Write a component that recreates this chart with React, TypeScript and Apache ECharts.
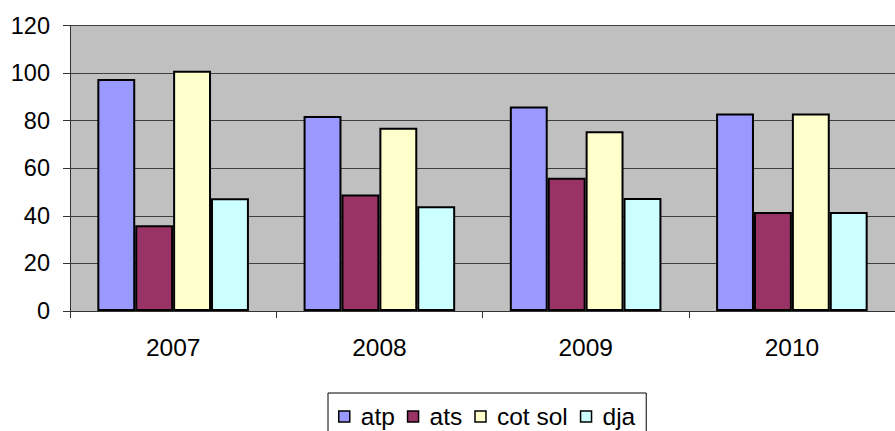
import React, { useEffect, useRef } from "react";
import * as echarts from "echarts";

const categories = ["2007", "2008", "2009", "2010"];
const seriesNames = ["atp", "ats", "cot sol", "dja"];
const atp = [97.5, 82, 86, 83];
const ats = [36, 49, 56, 41.6];
const cotSol = [101, 77, 75.5, 83];
const dja = [47.4, 44, 47.5, 41.6];
const yTicks = [0, 20, 40, 60, 80, 100, 120];
const colors = ["#9999FF", "#993366", "#FFFFCC", "#CCFFFF"];

const FONT = "Liberation Sans, Arial, sans-serif";

export default function App() {
  const ref = useRef<HTMLDivElement>(null);
  useEffect(() => {
    if (!ref.current) return;
    const chart = echarts.init(ref.current, undefined, { renderer: "svg" });
    const values = [atp, ats, cotSol, dja];
    chart.setOption({
      animation: false,
      backgroundColor: "#FFFFFF",
      textStyle: { fontFamily: FONT },
      grid: {
        left: 70,
        top: 25.5,
        bottom: 120,
        right: -11,
        show: true,
        backgroundColor: "#C0C0C0",
        borderWidth: 0,
      },
      legend: {
        data: seriesNames,
        left: 328,
        top: 393,
        padding: [11, 11, 12, 10],
        borderColor: "#000000",
        borderWidth: 1,
        backgroundColor: "#FFFFFF",
        itemWidth: 11,
        itemHeight: 11,
        itemGap: 12,
        icon: "rect",
        itemStyle: { borderColor: "#000000", borderWidth: 1.5 },
        textStyle: {
          fontSize: 24.5,
          color: "#000000",
          fontFamily: FONT,
          padding: [0, 0, 0, 6],
        },
      },
      xAxis: {
        type: "category",
        data: categories,
        axisLine: { show: true, lineStyle: { color: "#333333", width: 1 } },
        axisTick: { show: true, length: 7, lineStyle: { color: "#333333" } },
        axisLabel: {
          margin: 24,
          fontSize: 24.5,
          color: "#000000",
          fontFamily: FONT,
        },
        splitLine: { show: false },
      },
      yAxis: {
        type: "value",
        min: yTicks[0],
        max: yTicks[yTicks.length - 1],
        interval: 20,
        axisLine: { show: true, lineStyle: { color: "#333333", width: 1 } },
        axisTick: { show: true, length: 7, lineStyle: { color: "#333333" } },
        axisLabel: {
          margin: 20,
          fontSize: 23.5,
          color: "#000000",
          fontFamily: FONT,
        },
        splitLine: { show: true, lineStyle: { color: "#404040", width: 1 } },
      },
      series: seriesNames.map((name, i) => ({
        name,
        type: "bar",
        data: values[i],
        barGap: "0%",
        barCategoryGap: "26.5%",
        itemStyle: { color: colors[i], borderColor: "#000000", borderWidth: 2 },
      })),
    });
    return () => chart.dispose();
  }, []);
  return (
    <div
      ref={ref}
      style={{ position: "fixed", left: 0, top: 0, width: 895, height: 431 }}
    />
  );
}
